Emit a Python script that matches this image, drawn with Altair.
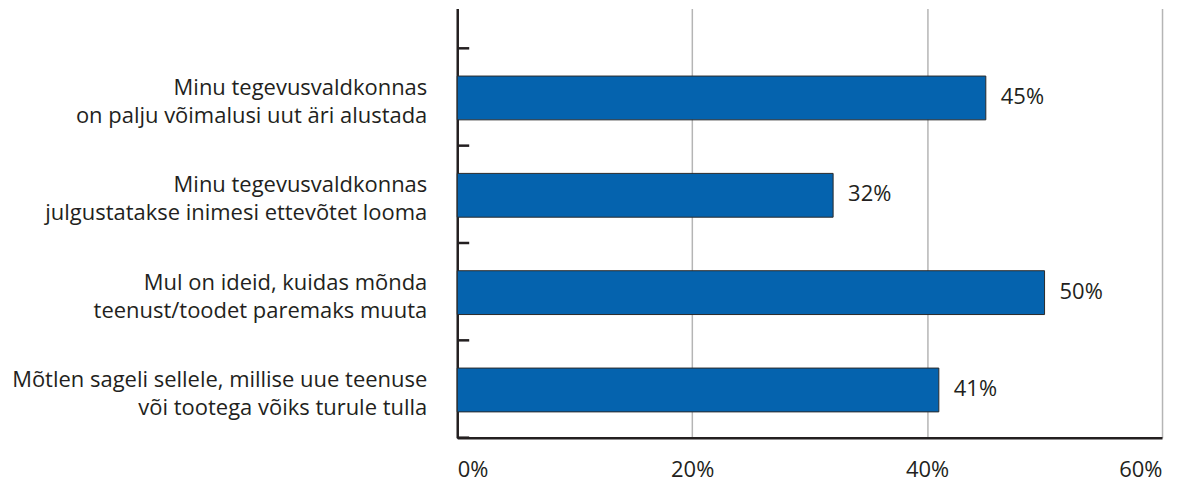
import altair as alt
import pandas as pd

categories = [
    "Minu tegevusvaldkonnas\non palju võimalusi uut äri alustada",
    "Minu tegevusvaldkonnas\njulgustatakse inimesi ettevõtet looma",
    "Mul on ideid, kuidas mõnda\nteenust/toodet paremaks muuta",
    "Mõtlen sageli sellele, millise uue teenuse\nvõi tootega võiks turule tulla",
]
values = [45, 32, 50, 41]
x_ticks = [0, 20, 40, 60]

n = len(categories)
rows = [n - 1 - i for i in range(n)]
df = pd.DataFrame({
    "label": categories,
    "value": values,
    "row": rows,
})
df["lo"] = df["row"] + 0.265
df["hi"] = df["row"] + 0.715
df["mid"] = df["row"] + 0.49
df["lab"] = df["value"].astype(str) + "%"

edges = pd.DataFrame({"edge": list(range(n + 1))})

FONT = "Open Sans"
FS = 22
TXT = "#231f20"

yscale = alt.Scale(domain=[0, 4.41], nice=False, zero=False)
xscale = alt.Scale(domain=[0, 60], nice=False, zero=True)

base = alt.Chart(df)

bars = base.mark_bar(color="#0563ae", stroke="#2a2a2a", strokeWidth=1).encode(
    x=alt.X("value:Q", scale=xscale, axis=alt.Axis(
        values=x_ticks, labelExpr="datum.value + '%'", title=None,
        grid=True, gridColor="#b5b5b5", gridWidth=1.5,
        ticks=False, domainColor=TXT, domainWidth=2.5,
        labelFont=FONT, labelFontSize=FS, labelColor=TXT,
        labelPadding=22, labelBaseline="top")),
    x2=alt.value(0),
    y=alt.Y("lo:Q", scale=yscale, axis=alt.Axis(
        title=None, labels=False, ticks=False, grid=False,
        domainColor=TXT, domainWidth=2.5)),
    y2="hi:Q",
)

vals = base.mark_text(align="left", baseline="middle", dx=15, dy=-1, font=FONT,
                      fontSize=FS, color=TXT).encode(
    x=alt.X("value:Q", scale=xscale),
    y=alt.Y("mid:Q", scale=yscale),
    text="lab:N",
)

cats = base.mark_text(align="right", baseline="alphabetic", font=FONT, fontSize=FS,
                      color=TXT, lineBreak="\n", lineHeight=28, dy=-3).encode(
    x=alt.value(-30),
    y=alt.Y("mid:Q", scale=yscale),
    text="label:N",
)

ticks = alt.Chart(edges).mark_rule(color=TXT, strokeWidth=2.5).encode(
    y=alt.Y("edge:Q", scale=yscale),
    x=alt.value(0),
    x2=alt.value(12),
)

chart = alt.layer(bars, ticks, vals, cats).properties(
    width=706, height=430,
    autosize=alt.AutoSizeParams(type="none"),
    padding={"left": 450, "top": 0, "right": 14, "bottom": 44},
).configure_view(stroke=None)

chart.save("out.html", embed_options={"renderer": "svg", "actions": False})
